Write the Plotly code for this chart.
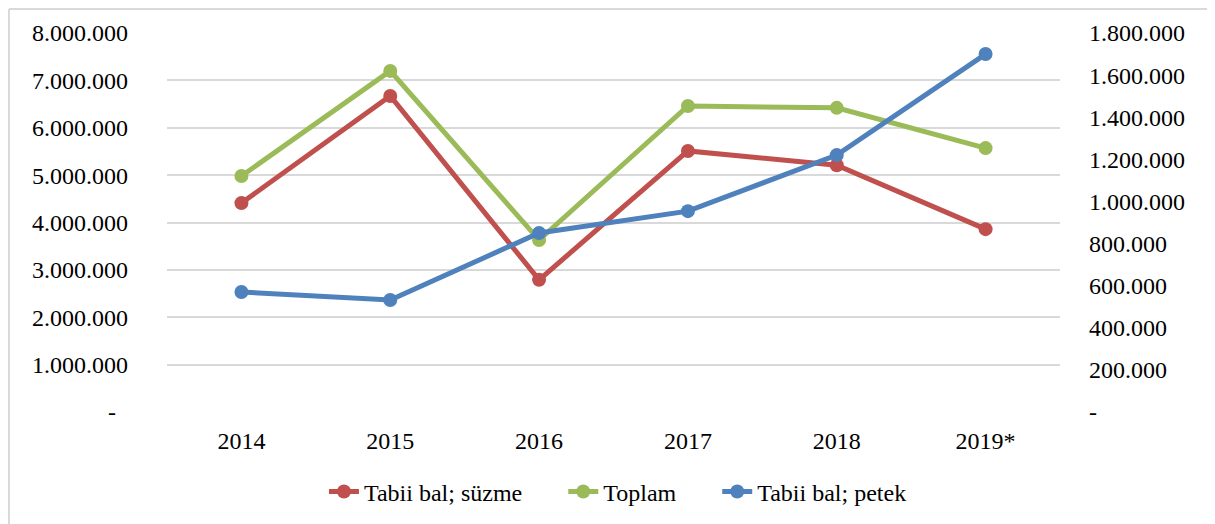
import plotly.graph_objects as go

years = ["2014", "2015", "2016", "2017", "2018", "2019*"]
suzme = [4410000, 6670000, 2790000, 5510000, 5210000, 3860000]
toplam = [4980000, 7200000, 3630000, 6460000, 6420000, 5570000]
petek = [570000, 532000, 850000, 954000, 1220000, 1700000]

left_ticks = [i * 1000000 for i in range(9)]
right_ticks = [i * 200000 for i in range(10)]


def tr_fmt(v, zero="-"):
    # Turkish style thousands separator, zero shown as a dash
    return zero if v == 0 else f"{v:,}".replace(",", ".")


font = dict(family="'Times New Roman', 'Liberation Serif', 'DejaVu Serif', serif",
            size=24, color="#000000")
pad = "\u00a0" * 6

fig = go.Figure()
fig.add_trace(go.Scatter(
    x=years, y=suzme, name="Tabii bal; süzme" + pad, mode="lines+markers",
    line=dict(color="#C0504D", width=5), marker=dict(size=14, color="#C0504D"),
))
fig.add_trace(go.Scatter(
    x=years, y=toplam, name="Toplam" + pad, mode="lines+markers",
    line=dict(color="#9BBB59", width=5), marker=dict(size=14, color="#9BBB59"),
))
fig.add_trace(go.Scatter(
    x=years, y=petek, name="Tabii bal; petek", mode="lines+markers", yaxis="y2",
    line=dict(color="#4F81BD", width=5), marker=dict(size=14, color="#4F81BD"),
))

fig.update_layout(
    width=1215, height=524,
    margin=dict(l=159, r=163, t=25, b=120),
    paper_bgcolor="white", plot_bgcolor="white",
    font=font,
    xaxis=dict(type="category", range=[-0.5, 5.5], showgrid=False, showline=False,
               ticks="", ticklabelstandoff=12),
    yaxis=dict(range=[0, 8000000], tickvals=left_ticks,
               ticktext=[tr_fmt(v, "-\u00a0\u00a0") for v in left_ticks],
               showgrid=True, gridcolor="#d9d9d9", gridwidth=2,
               zeroline=False, showline=False, ticklabelstandoff=38),
    yaxis2=dict(range=[0, 1800000], tickvals=right_ticks,
                ticktext=[tr_fmt(v) for v in right_ticks],
                overlaying="y", side="right", showgrid=False,
                zeroline=False, showline=False, ticklabelstandoff=28),
    legend=dict(orientation="h", x=0.505, xanchor="center", y=-0.211, yanchor="middle",
                font=font, traceorder="normal"),
    showlegend=True,
    shapes=[
        dict(type="line", xref="paper", yref="paper", x0=-0.177, x1=1.2,
             y0=1.063, y1=1.063, line=dict(color="#d9d9d9", width=2)),
        dict(type="line", xref="paper", yref="paper", x0=-0.177, x1=-0.177,
             y0=1.063, y1=-0.35, line=dict(color="#d9d9d9", width=2)),
    ],
)

fig.write_html("out.html")
